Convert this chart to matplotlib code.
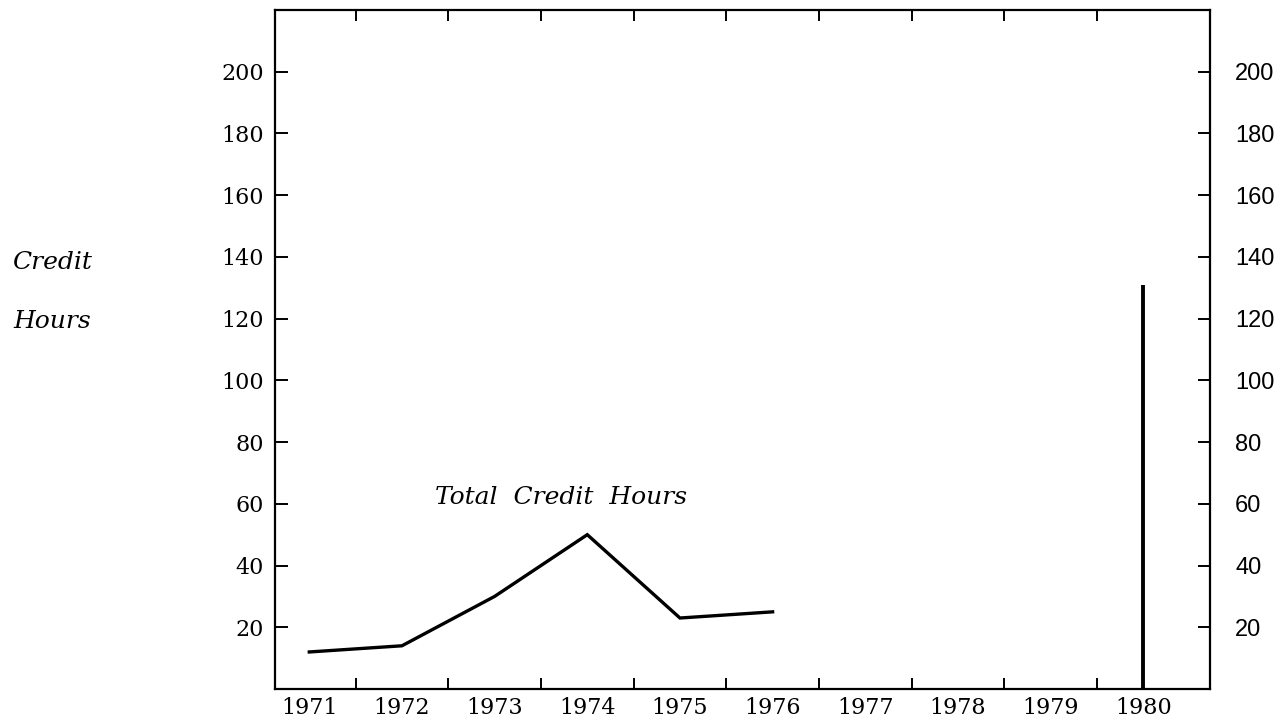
import matplotlib
matplotlib.use('Agg')
import matplotlib.pyplot as plt
import numpy as np

# data
years = [1971, 1972, 1973, 1974, 1975, 1976]
credit_hours = [12, 14, 30, 50, 23, 25]
last_year = 1980
last_hours = 131

tick_years = list(range(1971, 1981))
y_ticks = list(range(20, 201, 20))

fig = plt.figure(figsize=(12.78, 7.21), dpi=100)
ax = fig.add_axes([275 / 1278, 32 / 721, 935 / 1278, 679 / 721])

ax.plot(years, credit_hours, color='black', lw=2.4, solid_joinstyle='miter')
ax.vlines(last_year, 0, last_hours, color='black', lw=2.8)

ax.set_xlim(1970.63, 1980.72)
ax.set_ylim(0, 220)

for s in ax.spines.values():
    s.set_linewidth(1.6)

# year labels without tick marks, short marks between years
ax.set_xticks(tick_years)
ax.set_xticklabels([str(y) for y in tick_years], family='DejaVu Serif', fontsize=16)
ax.set_xticks([y + 0.5 for y in tick_years[:-1]], minor=True)
ax.tick_params(axis='x', which='major', length=0, pad=6)
ax.tick_params(axis='x', which='minor', direction='in', length=8, width=1.4,
               top=True, bottom=True)

ax.set_yticks(y_ticks)
ax.set_yticklabels([str(v) for v in y_ticks], family='DejaVu Serif', fontsize=16)
ax.tick_params(axis='y', which='major', direction='in', length=9, width=1.4,
               left=True, right=True, labelright=False, pad=8)

ax2 = ax.twinx()
ax2.set_ylim(ax.get_ylim())
ax2.set_yticks(y_ticks)
ax2.set_yticklabels([str(v) for v in y_ticks], family='Liberation Sans', fontsize=17)
ax2.tick_params(axis='y', direction='in', length=9, width=1.4, pad=18)
for s in ax2.spines.values():
    s.set_visible(False)

ax.text(1973.72, 62, 'Total  Credit  Hours', ha='center', va='center',
        family='DejaVu Serif', style='italic', fontsize=18)

fig.text(52 / 1278, 1 - 262 / 721, 'Credit', ha='center', va='center',
         family='DejaVu Serif', style='italic', fontsize=18)
fig.text(52 / 1278, 1 - 322 / 721, 'Hours', ha='center', va='center',
         family='DejaVu Serif', style='italic', fontsize=18)

fig.savefig('out.png', dpi=100, facecolor='white')
